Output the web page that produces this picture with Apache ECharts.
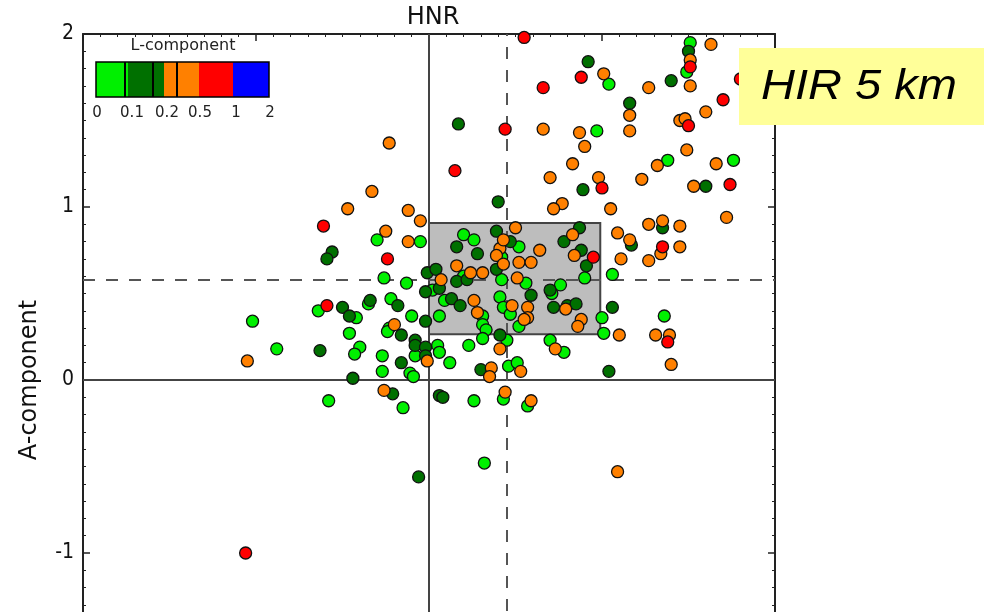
<!DOCTYPE html>
<html>
<head>
<meta charset="utf-8">
<script src="https://cdn.jsdelivr.net/npm/echarts@6/dist/echarts.min.js"></script>
<style>
  html, body { margin: 0; padding: 0; background: #ffffff; }
  #chart { width: 984px; height: 612px; }
</style>
</head>
<body>
<div id="chart"></div>
<script>
// HNR (x) against A-component (y); each point coloured by its L-component bin.

// L-component 0 - 0.1
const lowL = [
  [1.51, 1.95], [1.49, 1.78], [1.04, 1.71], [0.97, 1.44], [1.38, 1.27], [1.76, 1.27],
  [-0.30, 0.81], [-0.05, 0.80], [-0.26, 0.59], [-0.13, 0.56], [-0.64, 0.40], [-0.42, 0.36],
  [-0.35, 0.44], [-0.22, 0.47], [-0.10, 0.37], [-0.23, 0.30], [-0.24, 0.28], [-0.46, 0.27],
  [-0.40, 0.19], [-0.43, 0.15], [-0.27, 0.14], [0.05, 0.20], [0.06, 0.16], [0.02, 0.52],
  [0.09, 0.46], [0.06, 0.37], [0.20, 0.84], [0.26, 0.81], [0.52, 0.77], [0.42, 0.71],
  [0.20, 0.60], [0.42, 0.58], [0.56, 0.56], [0.41, 0.48], [0.43, 0.42], [0.47, 0.38],
  [0.52, 0.31], [0.31, 0.37], [0.31, 0.32], [0.33, 0.29], [0.31, 0.24], [0.23, 0.20],
  [0.45, 0.23], [0.70, 0.23], [0.78, 0.16], [0.71, 0.50], [0.76, 0.55], [0.90, 0.59],
  [1.00, 0.36], [1.01, 0.27], [1.06, 0.61], [1.36, 0.37], [-1.02, 0.34], [-0.88, 0.18],
  [-0.58, -0.12], [-0.15, -0.16], [-0.27, 0.05], [-0.11, 0.04], [-0.09, 0.02], [-0.08, 0.14],
  [0.12, 0.10], [0.26, -0.12], [0.46, 0.08], [0.51, 0.10], [0.43, -0.11], [0.57, -0.15],
  [0.32, -0.48]
];

// L-component 0.1 - 0.2
const midL = [
  [0.17, 1.48], [0.40, 1.03], [1.50, 1.90], [0.92, 1.84], [1.40, 1.73], [1.16, 1.60],
  [0.89, 1.10], [1.60, 1.12], [1.35, 0.88], [-0.56, 0.74], [-0.59, 0.70], [-0.50, 0.42],
  [-0.46, 0.37], [-0.34, 0.46], [-0.18, 0.43], [-0.02, 0.34], [-0.16, 0.26], [-0.63, 0.17],
  [-0.08, 0.23], [-0.08, 0.20], [-0.02, 0.19], [-0.01, 0.62], [0.04, 0.64], [-0.02, 0.51],
  [0.06, 0.53], [0.13, 0.47], [0.18, 0.43], [0.16, 0.77], [0.28, 0.73], [0.39, 0.86],
  [0.47, 0.80], [0.39, 0.64], [0.16, 0.57], [0.22, 0.58], [0.59, 0.49], [0.41, 0.26],
  [0.70, 0.52], [0.72, 0.42], [0.80, 0.43], [0.85, 0.44], [0.78, 0.80], [0.87, 0.88],
  [0.88, 0.75], [0.91, 0.66], [1.06, 0.42], [1.17, 0.78], [1.04, 0.05], [-0.44, 0.01],
  [-0.21, -0.08], [-0.16, 0.10], [-0.02, 0.14], [0.06, -0.09], [0.08, -0.10], [0.30, 0.06],
  [-0.06, -0.56]
];

// L-component 0.2 - 0.5
const highL = [
  [0.66, 1.45], [-0.23, 1.37], [-0.33, 1.09], [-0.47, 0.99], [-0.12, 0.98], [-0.05, 0.92],
  [0.50, 0.88], [1.63, 1.94], [1.51, 1.85], [1.01, 1.77], [1.27, 1.69], [1.51, 1.70],
  [1.16, 1.53], [1.60, 1.55], [1.45, 1.50], [1.48, 1.51], [0.87, 1.43], [1.16, 1.44],
  [0.90, 1.35], [1.49, 1.33], [0.83, 1.25], [1.32, 1.24], [1.66, 1.25], [0.70, 1.17],
  [0.98, 1.17], [1.23, 1.16], [1.53, 1.12], [0.77, 1.02], [0.72, 0.99], [1.05, 0.99],
  [1.72, 0.94], [1.27, 0.90], [1.35, 0.92], [1.45, 0.89], [1.16, 0.81], [-0.25, 0.86],
  [-0.12, 0.80], [-0.20, 0.32], [0.07, 0.58], [0.41, 0.76], [0.43, 0.81], [0.64, 0.75],
  [0.39, 0.72], [0.43, 0.67], [0.52, 0.68], [0.59, 0.68], [0.16, 0.66], [0.24, 0.62],
  [0.31, 0.62], [0.51, 0.59], [0.26, 0.46], [0.48, 0.43], [0.57, 0.42], [0.57, 0.36],
  [0.55, 0.35], [0.28, 0.39], [0.41, 0.18], [0.73, 0.18], [0.83, 0.84], [0.84, 0.72],
  [0.88, 0.35], [0.86, 0.31], [1.09, 0.85], [1.11, 0.70], [1.10, 0.26], [0.79, 0.41],
  [1.27, 0.69], [1.34, 0.73], [1.45, 0.77], [1.31, 0.26], [1.39, 0.26], [1.40, 0.09],
  [-1.05, 0.11], [-0.26, -0.06], [-0.01, 0.11], [0.36, 0.07], [0.35, 0.02], [0.53, 0.05],
  [0.44, -0.07], [0.59, -0.12], [1.09, -0.53]
];

// L-component 0.5 - 1
const topL = [
  [0.55, 1.98], [0.66, 1.69], [0.44, 1.45], [0.15, 1.21], [-0.61, 0.89], [1.51, 1.81],
  [0.88, 1.75], [1.80, 1.74], [1.70, 1.62], [1.50, 1.47], [1.00, 1.11], [1.74, 1.13],
  [-0.24, 0.70], [-0.59, 0.43], [0.95, 0.71], [1.35, 0.77], [1.38, 0.22], [-1.06, -1.00]
];

// Median lines and the central box (HNR range, A-component range)
const medianHNR = 0.445;
const medianA = 0.576;
const boxHNR = [0, 0.99];
const boxA = [0.264, 0.907];

const colorbarLabels = ['0', '0.1', '0.2', '0.5', '1', '2'];
const binColors = ['#00f000', '#007000', '#ff8000', '#ff0000', '#0000ff'];

const FONT = "'DejaVu Sans', sans-serif";
const FONT_NARROW = "'DejaVu Sans Condensed', 'DejaVu Sans', sans-serif";
const AXIS_COLOR = '#222';

const chart = echarts.init(document.getElementById('chart'), null, { renderer: 'canvas' });

function frameAxis(extra) {
  return Object.assign({
    type: 'value',
    min: -2,
    max: 2,
    interval: 1,
    gridIndex: 0,
    axisLine: { show: true, onZero: false, lineStyle: { color: AXIS_COLOR, width: 2 } },
    axisTick: { show: true, inside: true, length: 7, lineStyle: { color: AXIS_COLOR, width: 1.5 } },
    minorTick: { show: true, splitNumber: 10, length: 3, lineStyle: { color: AXIS_COLOR, width: 1 } },
    splitLine: { show: false },
    minorSplitLine: { show: false },
    axisLabel: { show: false }
  }, extra);
}

function pointSeries(name, data, color) {
  return {
    name: name,
    type: 'scatter',
    data: data,
    symbol: 'circle',
    symbolSize: 12,
    z: 5,
    itemStyle: { color: color, borderColor: '#111', borderWidth: 1.3, opacity: 1 },
    emphasis: { disabled: true }
  };
}

// Colour bar for the L-component bins
const barX = 96, barY = 62, barH = 35;
const colorbarGraphics = [
  { type: 'rect', shape: { x: barX, y: barY, width: 26, height: barH }, style: { fill: binColors[0] } },
  { type: 'rect', shape: { x: 122, y: barY, width: 6, height: barH }, style: { fill: binColors[0] } },
  { type: 'rect', shape: { x: 128, y: barY, width: 36, height: barH }, style: { fill: binColors[1] } },
  { type: 'rect', shape: { x: 164, y: barY, width: 35, height: barH }, style: { fill: binColors[2] } },
  { type: 'rect', shape: { x: 199, y: barY, width: 34, height: barH }, style: { fill: binColors[3] } },
  { type: 'rect', shape: { x: 233, y: barY, width: 36, height: barH }, style: { fill: binColors[4] } },
  { type: 'rect', shape: { x: 124, y: barY, width: 2, height: barH }, style: { fill: '#000' } },
  { type: 'rect', shape: { x: 152, y: barY, width: 2, height: barH }, style: { fill: '#000' } },
  { type: 'rect', shape: { x: 176, y: barY, width: 2, height: barH }, style: { fill: '#000' } },
  { type: 'rect', shape: { x: barX, y: barY, width: 173, height: barH }, style: { fill: 'none', stroke: '#000', lineWidth: 1.5 } },
  { type: 'text', x: 183, y: 46, style: { text: 'L-component', font: '16px ' + FONT, fill: '#222', textAlign: 'center', textVerticalAlign: 'middle' } }
];
const labelXs = [97, 132, 167, 200, 236, 270];
colorbarLabels.forEach(function (t, i) {
  colorbarGraphics.push({
    type: 'text', x: labelXs[i], y: 113,
    style: { text: t, font: '15px ' + FONT, fill: '#222', textAlign: 'center', textVerticalAlign: 'middle' }
  });
});

const option = {
  animation: false,
  backgroundColor: '#ffffff',
  title: {
    text: 'HNR',
    left: 428,
    top: 1,
    textAlign: 'center',
    textStyle: { fontFamily: FONT, fontSize: 24, fontWeight: 'normal', color: '#111' }
  },
  grid: { left: 83, top: 34, width: 692, height: 692, containLabel: false, outerBoundsMode: 'none' },
  xAxis: [
    frameAxis({ position: 'bottom' }),
    frameAxis({ position: 'top' })
  ],
  yAxis: [
    frameAxis({
      position: 'left',
      name: 'A-component',
      nameLocation: 'middle',
      nameRotate: 90,
      nameGap: 41,
      nameTextStyle: { fontFamily: FONT, fontSize: 24, color: '#111' },
      axisLabel: { show: true, fontFamily: FONT_NARROW, fontSize: 21, color: '#111', margin: 9 }
    }),
    frameAxis({ position: 'right' })
  ],
  series: [
    {
      name: 'reference',
      type: 'scatter',
      data: [],
      z: 1,
      silent: true,
      markArea: {
        silent: true,
        itemStyle: { color: '#bdbdbd', borderColor: '#444', borderWidth: 2 },
        data: [[{ xAxis: boxHNR[0], yAxis: boxA[0] }, { xAxis: boxHNR[1], yAxis: boxA[1] }]]
      },
      markLine: {
        silent: true,
        symbol: 'none',
        label: { show: false },
        lineStyle: { color: '#444', width: 2, type: 'solid' },
        data: [
          { xAxis: 0 },
          { yAxis: 0 },
          { xAxis: medianHNR, lineStyle: { type: [12, 11], width: 2, color: '#555' } },
          { yAxis: medianA, lineStyle: { type: [12, 11], width: 2, color: '#555' } }
        ]
      }
    },
    pointSeries('L 0-0.1', lowL, binColors[0]),
    pointSeries('L 0.1-0.2', midL, binColors[1]),
    pointSeries('L 0.2-0.5', highL, binColors[2]),
    pointSeries('L 0.5-1', topL, binColors[3])
  ],
  graphic: colorbarGraphics.concat([
    { type: 'rect', z: 100, shape: { x: 739, y: 48, width: 245, height: 77 }, style: { fill: '#ffff99' } },
    { type: 'text', z: 101, x: 761, y: 87, scaleX: 1.12, style: { text: 'HIR 5 km', font: 'italic 42px "Liberation Sans", Arial, sans-serif', fill: '#000', textVerticalAlign: 'middle' } }
  ])
};

chart.setOption(option);
</script>
</body>
</html>
